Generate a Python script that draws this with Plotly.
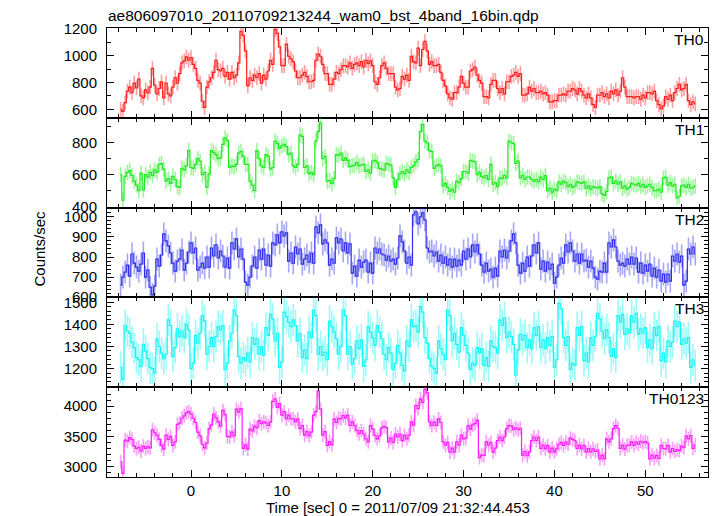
import numpy as np
import plotly.graph_objects as go
from plotly.subplots import make_subplots

T_START = -7.75   # centre of first bin [s]
BIN = 0.25        # bin width [s]

TH0 = [
    600, 585, 650, 735,  765, 725, 795, 760,  825, 700, 685, 745,  725, 765, 905, 780,
    715, 755, 805, 685,  795, 715, 700, 765,  835, 795, 865, 945,  960, 990, 965, 985,
    935, 905, 815, 795,  660, 615, 765, 805,  835, 875, 965, 895,  885, 905, 845, 875,
    825, 875, 835, 855,  945, 1180, 1150, 1035,  775, 835, 815, 855,  835, 865, 795, 855,
    825, 885, 965, 935,  1195, 1165, 1065, 925,  925, 1085, 995, 975,  955, 885, 835, 835,
    855, 875, 845, 805,  805, 815, 965, 1010,  995, 935, 865, 865,  785, 785, 825, 875,
    865, 895, 925, 925,  915, 945, 905, 935,  945, 925, 955, 915,  965, 940, 960, 925,
    805, 785, 835, 925,  945, 905, 865, 865,  865, 765, 745, 755,  845, 825, 855, 815,
    995, 955, 945, 1055,  925, 1045, 1105, 1035,  935, 955, 925, 925,  935, 875, 815, 775,
    715, 685, 675, 725,  725, 765, 845, 795,  765, 765, 885, 895,  915, 855, 815, 795,
    695, 695, 685, 785,  815, 815, 755, 725,  755, 715, 805, 805,  845, 855, 875, 845,
    865, 705, 705, 715,  765, 735, 755, 725,  725, 735, 715, 725,  705, 655, 655, 665,
    665, 705, 705, 715,  705, 735, 735, 755,  745, 715, 755, 735,  705, 685, 715, 685,
    635, 615, 705, 705,  725, 695, 715, 685,  735, 715, 745, 705,  735, 835, 765, 695,
    695, 695, 685, 695,  695, 675, 705, 685,  725, 725, 715, 735,  665, 635, 605, 625,
    695, 675, 705, 665,  725, 755, 785, 745,  755, 785, 665, 635,  655, 640,
]

TH1 = [
    600, 440, 590, 615,  625, 595, 560, 535,  500, 610, 505, 600,  585, 615, 595, 630,
    615, 665, 670, 635,  560, 575, 545, 590,  570, 525, 520, 640,  630, 655, 750, 645,
    640, 665, 700, 685,  600, 615, 520, 605,  750, 740, 725, 700,  705, 790, 830, 815,
    645, 655, 650, 665,  735, 745, 715, 665,  665, 560, 535, 500,  750, 700, 655, 645,
    725, 715, 635, 645,  810, 795, 765, 780,  790, 775, 725, 735,  655, 645, 665, 850,
    840, 645, 655, 605,  615, 600, 810, 870,  925, 700, 715, 560,  565, 545, 575, 725,
    720, 735, 690, 705,  690, 650, 655, 660,  675, 655, 660, 665,  620, 630, 610, 685,
    690, 675, 640, 635,  630, 670, 665, 660,  580, 520, 570, 605,  620, 605, 630, 615,
    645, 655, 680, 695,  870, 915, 810, 800,  750, 745, 640, 655,  665, 655, 530, 545,
    520, 495, 510, 490,  560, 550, 575, 620,  620, 610, 690, 685,  680, 600, 615, 590,
    580, 595, 570, 665,  540, 550, 525, 580,  575, 595, 580, 810,  800, 795, 670, 685,
    580, 595, 570, 585,  585, 570, 560, 570,  555, 585, 570, 595,  500, 515, 490, 510,
    500, 555, 540, 560,  550, 525, 540, 520,  530, 555, 550, 545,  555, 515, 530, 510,
    525, 520, 515, 525,  480, 470, 495, 580,  585, 545, 560, 540,  555, 515, 530, 510,
    520, 545, 540, 535,  545, 525, 540, 520,  530, 540, 520, 500,  500, 510, 490, 580,
    585, 535, 550, 530,  540, 455, 465, 530,  535, 520, 540, 515,  520, 530,
]

TH2 = [
    660, 700, 725, 760,  705, 815, 770, 750,  730, 765, 820, 700,  735, 650, 612, 655,
    790, 755, 810, 915,  880, 855, 820, 770,  730, 780, 790, 835,  735, 770, 825, 870,
    820, 845, 735, 750,  770, 745, 800, 750,  845, 805, 860, 795,  830, 805, 750, 795,
    745, 870, 840, 890,  800, 840, 790, 675,  660, 700, 755, 800,  745, 835, 790, 840,
    760, 810, 755, 870,  860, 910, 870, 925,  905, 920, 780, 820,  770, 850, 815, 840,
    765, 790, 810, 775,  820, 770, 950, 920,  960, 865, 885, 870,  760, 790, 770, 895,
    870, 890, 830, 870,  820, 865, 720, 755,  705, 785, 750, 775,  785, 725, 770, 720,
    845, 820, 840, 815,  810, 785, 805, 780,  790, 765, 795, 905,  875, 830, 770, 800,
    760, 1010, 1025, 965,  1000, 1020, 985, 845,  825, 830, 805, 825,  780, 810, 770, 800,
    760, 790, 750, 790,  755, 785, 760, 830,  790, 840, 800, 860,  825, 860, 815, 760,
    725, 770, 730, 740,  700, 745, 705, 830,  800, 835, 795, 830,  880, 915, 870, 760,
    720, 770, 730, 800,  755, 805, 860, 820,  870, 740, 780, 730,  775, 740, 765, 670,
    700, 760, 795, 770,  860, 825, 870, 830,  780, 815, 770, 815,  780, 785, 750, 780,
    745, 700, 690, 730,  725, 770, 725, 870,  850, 885, 850, 780,  760, 770, 755, 790,
    765, 800, 765, 795,  725, 770, 720, 760,  730, 765, 705, 745,  700, 735, 680, 715,
    675, 715, 680, 805,  780, 815, 775, 805,  660, 680, 840, 815,  850, 815,
]

TH3 = [
    1205, 1150, 1395, 1370,  1360, 1320, 1295, 1250,  1240, 1210, 1310, 1280,  1245, 1205, 1200, 1180,
    1335, 1300, 1270, 1245,  1265, 1420, 1395, 1255,  1295, 1380, 1345, 1370,  1340, 1400, 1375, 1200,
    1225, 1350, 1315, 1360,  1440, 1415, 1265, 1300,  1340, 1300, 1345, 1390,  1375, 1395, 1195, 1225,
    1325, 1360, 1465, 1440,  1255, 1225, 1250, 1235,  1270, 1230, 1340, 1310,  1335, 1265, 1300, 1260,
    1385, 1350, 1445, 1425,  1325, 1360, 1205, 1230,  1455, 1435, 1410, 1390,  1420, 1395, 1325, 1360,
    1250, 1285, 1245, 1365,  1340, 1465, 1440, 1265,  1300, 1260, 1275, 1240,  1415, 1390, 1365, 1335,
    1265, 1300, 1465, 1440,  1265, 1300, 1220, 1245,  1325, 1290, 1330, 1210,  1240, 1390, 1365, 1340,
    1305, 1395, 1365, 1335,  1265, 1240, 1295, 1270,  1195, 1225, 1305, 1270,  1215, 1190, 1325, 1300,
    1420, 1390, 1395, 1365,  1480, 1455, 1340, 1315,  1245, 1210, 1200, 1180,  1325, 1290, 1265, 1240,
    1465, 1440, 1325, 1360,  1310, 1275, 1385, 1350,  1305, 1270, 1195, 1225,  1215, 1295, 1270, 1290,
    1215, 1250, 1210, 1325,  1300, 1295, 1270, 1420,  1395, 1430, 1340, 1365,  1345, 1310, 1170, 1285,
    1355, 1330, 1350, 1295,  1330, 1290, 1385, 1350,  1390, 1295, 1330, 1290,  1340, 1305, 1345, 1205,
    1240, 1495, 1470, 1340,  1305, 1345, 1195, 1225,  1215, 1385, 1350, 1390,  1235, 1270, 1230, 1340,
    1305, 1345, 1450, 1425,  1370, 1335, 1375, 1340,  1255, 1290, 1250, 1440,  1410, 1445, 1355, 1380,
    1360, 1440, 1410, 1450,  1355, 1380, 1360, 1385,  1295, 1330, 1290, 1385,  1350, 1390, 1235, 1270,
    1230, 1325, 1300, 1320,  1415, 1390, 1410, 1310,  1335, 1315, 1340, 1205,  1240, 1215,
]

TH0123 = [
    3080, 2890, 3440, 3420,  3480, 3450, 3340, 3300,  3320, 3260, 3340, 3300,  3330, 3310, 3610, 3560,
    3520, 3450, 3350, 3290,  3520, 3450, 3500, 3350,  3410, 3700, 3720, 3800,  3840, 3890, 3910, 3870,
    3800, 3730, 3570, 3510,  3370, 3310, 3390, 3630,  3690, 3870, 3810, 3740,  3670, 3930, 3860, 3500,
    3490, 3570, 3510, 3950,  3900, 3960, 3300, 3360,  3290, 3620, 3590, 3670,  3640, 3760, 3710, 3740,
    3725, 3680, 3740, 4080,  4120, 3980, 4040, 3850,  3910, 3790, 3850, 3790,  3790, 3740, 3790, 3630,
    3680, 3520, 3580, 3510,  3570, 3850, 3910, 4250,  3950, 3520, 3580, 3350,  3415, 3360, 3790, 3730,
    3800, 3790, 3845, 3800,  3850, 3680, 3740, 3680,  3600, 3545, 3595, 3540,  3460, 3410, 3680, 3625,
    3515, 3460, 3510, 3640,  3665, 3645, 3410, 3470,  3400, 3540, 3490, 3540,  3430, 3520, 3460, 3520,
    3740, 3685, 4010, 3960,  4120, 4060, 4280, 4220,  3740, 3680, 3735, 3680,  3790, 3730, 3410, 3355,
    3400, 3240, 3305, 3240,  3410, 3355, 3520, 3460,  3470, 3680, 3620, 3690,  3710, 3770, 3150, 3195,
    3185, 3410, 3355, 3400,  3240, 3305, 3430, 3490,  3430, 3490, 3630, 3680,  3670, 3610, 3640, 3610,
    3635, 3190, 3250, 3180,  3245, 3430, 3490, 3430,  3490, 3300, 3355, 3295,  3350, 3240, 3305, 3240,
    3295, 3370, 3400, 3350,  3405, 3370, 3470, 3450,  3430, 3300, 3355, 3295,  3350, 3240, 3300, 3245,
    3295, 3250, 3275, 3130,  3190, 3130, 3460, 3410,  3460, 3630, 3680, 3635,  3300, 3355, 3290, 3350,
    3355, 3410, 3350, 3405,  3370, 3420, 3395, 3415,  3390, 3130, 3190, 3140,  3185, 3135, 3350, 3300,
    3295, 3350, 3240, 3300,  3250, 3280, 3265, 3340,  3315, 3510, 3460, 3515,  3300, 3355,
]

NAMES = ["TH0", "TH1", "TH2", "TH3", "TH0123"]
SERIES = [TH0, TH1, TH2, TH3, TH0123]
ERRS = [55, 48, 57, 72, 115]
COLORS = ["rgb(255,30,30)", "rgb(30,235,30)", "rgb(45,45,235)", "rgb(20,245,245)", "rgb(250,30,250)"]
ERR_COLORS = ["rgba(255,40,40,0.45)", "rgba(40,235,40,0.45)", "rgba(60,60,235,0.45)",
              "rgba(30,245,245,0.45)", "rgba(250,40,250,0.45)"]
YRANGES = [[537, 1205], [394, 956], [599, 1046], [1116, 1522], [2829, 4313]]
YDTICK = [200, 200, 100, 100, 500]
YMINOR = [100, 100, 20, 20, 100]
XRANGE = [-9.25, 56.9]

FONT = "Liberation Sans, Arial, Helvetica, sans-serif"

fig = make_subplots(rows=5, cols=1, shared_xaxes=True, vertical_spacing=0)

for i, (name, vals) in enumerate(zip(NAMES, SERIES)):
    t = T_START + BIN * np.arange(len(vals))
    fig.add_trace(go.Scatter(
        x=t, y=vals, mode="lines", name=name,
        line=dict(color=COLORS[i], width=1.2, shape="hvh"),
        error_y=dict(type="constant", value=ERRS[i], color=ERR_COLORS[i],
                     thickness=1.6, width=0),
        showlegend=False,
    ), row=i + 1, col=1)

    fig.update_yaxes(
        row=i + 1, col=1, range=YRANGES[i], dtick=YDTICK[i], tick0=0,
        ticks="inside", ticklen=7, tickcolor="black", tickwidth=1,
        minor=dict(dtick=YMINOR[i], tick0=0, ticks="inside", ticklen=4,
                   tickcolor="black", showgrid=False),
        showline=True, linecolor="black", linewidth=1, mirror="allticks",
        showgrid=False, zeroline=False,
        tickfont=dict(size=15, color="black", family=FONT),
        ticklabelstandoff=6,
    )
    yref = "y domain" if i == 0 else f"y{i + 1} domain"
    fig.add_annotation(text=name, xref="paper", yref=yref, x=0.997, y=1,
                       xanchor="right", yanchor="top", yshift=-1, showarrow=False,
                       font=dict(size=15.5, color="black", family=FONT))

fig.update_xaxes(
    range=XRANGE, dtick=10, tick0=0,
    ticks="inside", ticklen=7, tickcolor="black", tickwidth=1,
    minor=dict(dtick=2, tick0=0, ticks="inside", ticklen=4, tickcolor="black", showgrid=False),
    showline=True, linecolor="black", linewidth=1, mirror="allticks",
    showgrid=False, zeroline=False,
    tickfont=dict(size=15, color="black", family=FONT),
)

fig.add_annotation(text="ae806097010_20110709213244_wam0_bst_4band_16bin.qdp",
                   xref="paper", yref="paper", x=0, y=1, xanchor="left", yanchor="middle",
                   yshift=13, xshift=-1, showarrow=False,
                   font=dict(size=15.5, color="black", family=FONT))
fig.add_annotation(text="Time [sec] 0 = 2011/07/09 21:32:44.453",
                   xref="paper", yref="paper", x=(398 - 107) / 601, y=0,
                   xanchor="center", yanchor="middle", yshift=-30, showarrow=False,
                   font=dict(size=15, color="black", family=FONT))
fig.add_annotation(text="Counts/sec", xref="paper", yref="paper",
                   x=(40 - 107) / 601, y=(477 - 248) / 450, textangle=-90,
                   xanchor="center", yanchor="middle", showarrow=False,
                   font=dict(size=15, color="black", family=FONT))

fig.update_layout(
    width=717, height=516,
    margin=dict(l=107, r=9, t=28, b=39),
    paper_bgcolor="white", plot_bgcolor="white",
    font=dict(family=FONT, size=15, color="black"),
)

fig.write_html("out.html", config={"displayModeBar": False},
               post_script="document.body.style.margin='0';")
